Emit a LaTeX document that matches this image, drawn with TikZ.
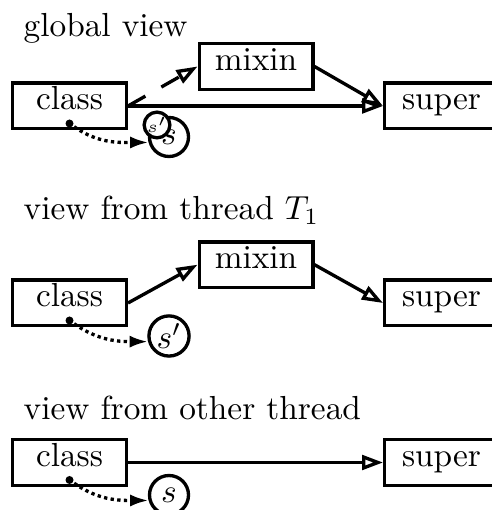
\documentclass[tikz,border=0pt]{standalone}
\usetikzlibrary{arrows.meta,calc}
\begin{document}
\begin{tikzpicture}[x=0.3pt,y=0.3pt,line width=1pt,
  box/.style={draw, rectangle, minimum width=34.1pt, minimum height=13.7pt,
    inner xsep=2pt, inner ysep=1pt, text height=7pt, text depth=4.7pt},
  ref/.style={draw, circle, minimum size=11.7pt, inner sep=0.5pt, fill=white},
  mini/.style={draw, circle, minimum size=5.8pt, inner sep=0pt, fill=white, font=\tiny},
  pin/.style={circle, fill, minimum size=2.4pt, inner sep=0pt},
  title/.style={anchor=base west, inner sep=0pt},
  inherit/.style={-{Triangle[open,length=6.3pt,width=4.4pt]}},
  dashedinherit/.style={inherit, dash pattern=on 6pt off 5.5pt},
  points/.style={densely dotted, -{Latex[length=5.5pt,width=3.6pt]}},
]
\clip (0,0) rectangle (492,510);

% global view
\node[title] (gt) at (22,473.3) {global view};
\node[box] (gclass) at (69.5,404) {class};
\node[box] (gmixin) at (256,443.5) {mixin};
\node[box] (gsuper) at (441.5,404) {super};
\node[pin] (gpin) at ($(gclass.south)+(0,7)$) {};
\node[ref] (gs) at (169,373) {$s$};
\node[mini] (gsp) at (157,385) {$s'$};
\draw[dashedinherit] (gclass.east) -- (gmixin.west);
\draw[inherit] (gmixin.east) -- (gsuper.west);
\draw[inherit] (gclass.east) -- (gsuper.west);
\draw[points] (gpin) to[out=-35,in=180] (gs.195);

% view from thread T1
\node[title] (tt) at (22,290) {view from thread $T_1$};
\node[box] (tclass) at (69.5,207) {class};
\node[box] (tmixin) at (256,245.3) {mixin};
\node[box] (tsuper) at (441.5,207) {super};
\node[pin] (tpin) at ($(tclass.south)+(0,7)$) {};
\node[ref] (ts) at (169,174) {$s'$};
\draw[inherit] (tclass.east) -- (tmixin.west);
\draw[inherit] (tmixin.east) -- (tsuper.west);
\draw[points] (tpin) to[out=-35,in=180] (ts.195);

% view from other thread
\node[title] (ot) at (22,90.5) {view from other thread};
\node[box] (oclass) at (69.5,47.5) {class};
\node[box] (osuper) at (441.5,47.5) {super};
\node[pin] (opin) at ($(oclass.south)+(0,7)$) {};
\node[ref] (os) at (169,15) {$s$};
\draw[inherit] (oclass.east) -- (osuper.west);
\draw[points] (opin) to[out=-35,in=180] (os.195);
\end{tikzpicture}
\end{document}
